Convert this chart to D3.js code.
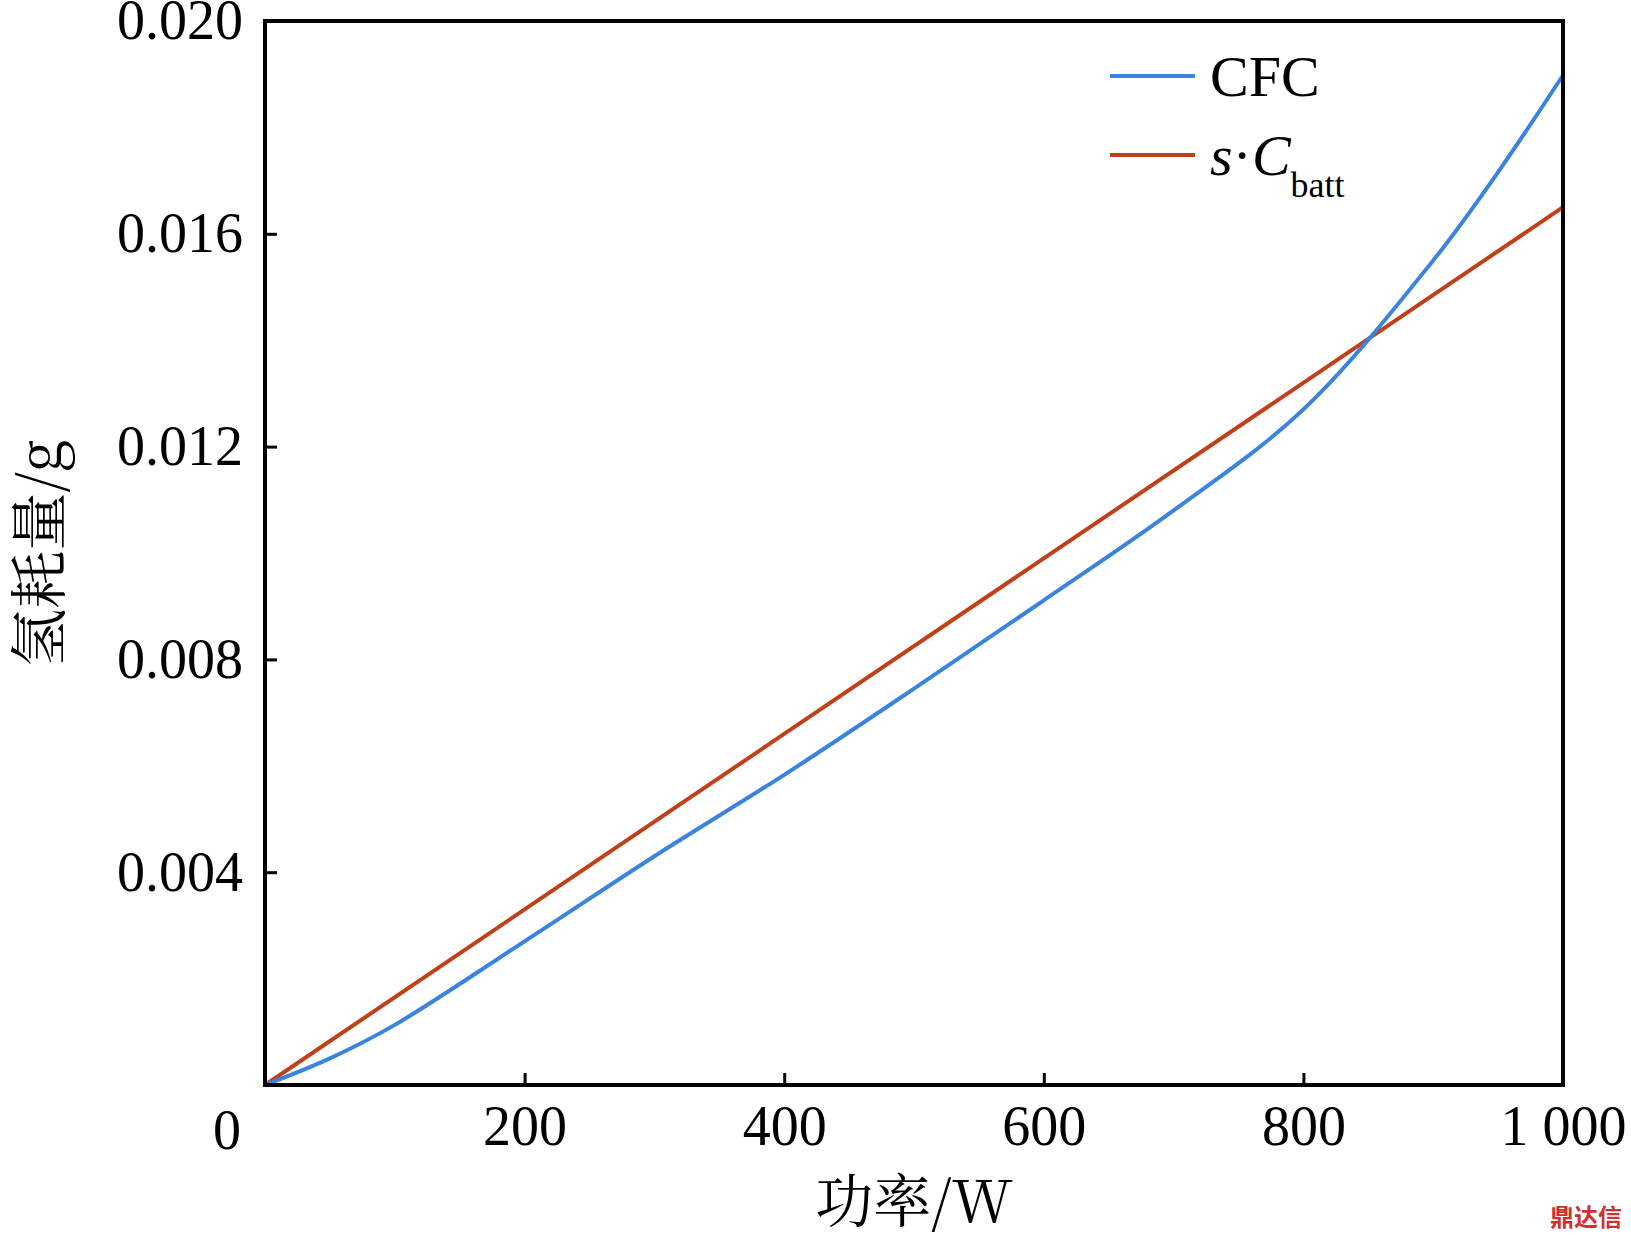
<!DOCTYPE html>
<html><head><meta charset="utf-8">
<script src="https://cdn.jsdelivr.net/npm/d3@7"></script>
<style>body{margin:0;background:#fff}</style>
</head><body>
<svg id="c" width="1631" height="1239"></svg>
<script>
// values
const cfcPower = [0, 50, 100, 200, 300, 400, 500, 600, 700, 800, 900, 950, 1000];
const cfcH2 = [0, 0.0005, 0.00113, 0.0027, 0.0043, 0.00583, 0.00745, 0.00911, 0.0108, 0.0127, 0.0155, 0.01716, 0.01898];
const battPower = [0, 1000];
const battH2 = [0, 0.0165];
const xTicks = [200, 400, 600, 800, 1000];
const yTicks = [0.004, 0.008, 0.012, 0.016, 0.020];

const svg = d3.select('#c');
const m = {l: 265, r: 1563, t: 21, b: 1085};
const x = d3.scaleLinear().domain([0, 1000]).range([m.l, m.r]);
const y = d3.scaleLinear().domain([0, 0.02]).range([m.b, m.t]);
const font = '"Liberation Serif","Times New Roman",serif';

const fmtX = d => d === 1000 ? '1 000' : d;
svg.append('g').attr('class', 'xa').attr('transform', `translate(0,${m.b})`)
  .call(d3.axisBottom(x).tickValues(xTicks).tickSize(-12).tickPadding(18).tickFormat(fmtX))
  .call(g => g.select('.domain').remove());
svg.append('g').attr('transform', `translate(${m.l},0)`)
  .call(d3.axisLeft(y).tickValues(yTicks).tickSize(-12).tickPadding(22).tickFormat(d3.format('.3f')))
  .call(g => g.select('.domain').remove());
svg.selectAll('.tick line').attr('stroke', '#000').attr('stroke-width', 3);
svg.selectAll('.tick text').attr('font-family', font).attr('font-size', 56).attr('fill', '#000');
svg.selectAll('.xa .tick text').attr('dy', '0.75em');

svg.append('text').attr('x', m.l - 38).attr('y', m.b + 64).attr('text-anchor', 'middle')
  .attr('font-family', font).attr('font-size', 56).text('0');

const line = d3.line().x(d => x(d[0])).y(d => y(d[1])).curve(d3.curveCatmullRom);
svg.append('path').datum(d3.zip(battPower, battH2)).attr('d', line)
  .attr('fill', 'none').attr('stroke', '#c0401a').attr('stroke-width', 4);
svg.append('path').datum(d3.zip(cfcPower, cfcH2)).attr('d', line)
  .attr('fill', 'none').attr('stroke', '#3a84e0').attr('stroke-width', 4);

svg.append('rect').attr('x', m.l).attr('y', m.t).attr('width', m.r - m.l).attr('height', m.b - m.t)
  .attr('fill', 'none').attr('stroke', '#000').attr('stroke-width', 4);

// legend
const lg = svg.append('g').attr('font-family', font);
lg.append('line').attr('x1', 1110).attr('x2', 1195).attr('y1', 76).attr('y2', 76).attr('stroke', '#3a84e0').attr('stroke-width', 4);
lg.append('text').attr('x', 1210).attr('y', 96).attr('font-size', 58).text('CFC');
lg.append('line').attr('x1', 1110).attr('x2', 1195).attr('y1', 155).attr('y2', 155).attr('stroke', '#c0401a').attr('stroke-width', 4);
const t2 = lg.append('text').attr('x', 1210).attr('y', 175).attr('font-size', 58);
t2.append('tspan').attr('font-style', 'italic').text('s');
t2.append('tspan').text('·');
t2.append('tspan').attr('font-style', 'italic').text('C');
t2.append('tspan').attr('font-size', 36).attr('dy', 22).text('batt');

svg.append('text').attr('x', (m.l + m.r) / 2).attr('y', 1222).attr('text-anchor', 'middle')
  .attr('font-family', '"Noto Serif CJK SC","Noto Sans CJK SC",' + font).attr('font-size', 58).text('功率/W');
svg.append('text').attr('transform', `translate(60,${(m.t + m.b) / 2}) rotate(-90)`).attr('text-anchor', 'middle')
  .attr('font-family', '"Noto Serif CJK SC","Noto Sans CJK SC",' + font).attr('font-size', 58).text('氢耗量/g');

svg.append('text').attr('x', 1622).attr('y', 1226).attr('text-anchor', 'end')
  .attr('font-family', '"Noto Sans CJK SC"').attr('font-weight', 'bold').attr('font-size', 24).attr('fill', '#d03030').text('鼎达信');
</script>
</body></html>
